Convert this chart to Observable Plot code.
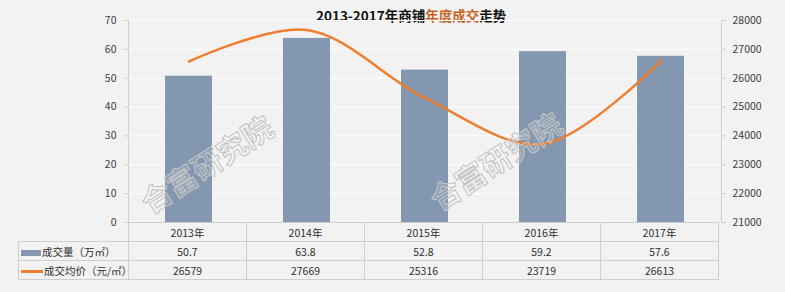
<!DOCTYPE html>
<html>
<head>
<meta charset="utf-8">
<script src="https://cdn.jsdelivr.net/npm/d3@7"></script>
<script src="https://cdn.jsdelivr.net/npm/@observablehq/plot@0.6"></script>
<style>
  html, body { margin: 0; padding: 0; }
  body { width: 785px; height: 292px; background: #f2f2f2; position: relative; overflow: hidden;
         font-family: "Microsoft YaHei", "Noto Sans CJK SC", "Noto Sans", sans-serif; color: #404040; }
  #title { position: absolute; top: 8px; left: 316px; font-size: 13.5px; font-weight: bold; color: #111; white-space: nowrap; line-height: 15px; }
  #title .hl { color: #c8621e; }
  #chart { position: absolute; left: 0; top: 0; }
  .wm { position: absolute; font-size: 30px; font-weight: bold; color: rgba(255,255,255,0.15);
        -webkit-text-stroke: 1px #c4c4c4; white-space: nowrap; transform: translate(-50%, -50%) rotate(-33deg);
        pointer-events: none; letter-spacing: 0px; }
  table { position: absolute; top: 222px; left: 18px; border-collapse: collapse; table-layout: fixed; font-size: 10.5px; color: #303030; }
  td { height: 19px; padding: 0; text-align: center; border: 1px solid #cfcfcf; box-sizing: border-box; white-space: nowrap; }
  td.blank { border: none; border-right: 1px solid #cfcfcf; }
  td.lab { text-align: left; padding-left: 2px; }
  .key { display: inline-block; vertical-align: middle; margin-right: 1px; }
</style>
</head>
<body>
<div id="title">2013-2017年商铺<span class="hl">年度成交</span>走势</div>
<div id="chart"></div>
<script>
// ---- data ----
const years = ["2013年", "2014年", "2015年", "2016年", "2017年"];
const volume = [50.7, 63.8, 52.8, 59.2, 57.6];          // 成交量（万㎡）
const price = [26579, 27669, 25316, 23719, 26613];      // 成交均价（元/㎡）
const leftTicks = [0, 10, 20, 30, 40, 50, 60, 70];
const rightTicks = [21000, 22000, 23000, 24000, 25000, 26000, 27000, 28000];
const seriesNames = ["成交量（万㎡）", "成交均价（元/㎡）"];
const watermark = "合富研究院";

const barColor = "#8497b0";
const lineColor = "#ef7f30";
const axisColor = "#cfcfcf";

const data = years.map((y, i) => ({year: y, volume: volume[i], price: price[i]}));
// right axis (price) mapped onto the left axis range
const priceToLeft = d3.scaleLinear([rightTicks[0], rightTicks[rightTicks.length - 1]],
                                   [leftTicks[0], leftTicks[leftTicks.length - 1]]);

const chart = Plot.plot({
  width: 785,
  height: 292,
  marginLeft: 128,
  marginRight: 64,
  marginTop: 20,
  marginBottom: 70,
  style: {background: "transparent", fontFamily: "'Microsoft YaHei', 'Noto Sans CJK SC', sans-serif", fontSize: "10.5px", color: "#404040", overflow: "visible"},
  x: {domain: years, paddingInner: 0.6, paddingOuter: 0.3, axis: null},
  y: {domain: [leftTicks[0], leftTicks[leftTicks.length - 1]], axis: null},
  marks: [
    Plot.gridY(leftTicks, {stroke: "#ffffff", strokeOpacity: 1, strokeWidth: 1}),
    Plot.frame({anchor: "left", stroke: axisColor}),
    Plot.frame({anchor: "right", stroke: axisColor}),
    Plot.axisY(leftTicks, {anchor: "left", label: null, tickSize: 4, tickPadding: 8, stroke: axisColor, fill: "#404040"}),
    Plot.axisY(rightTicks.map(priceToLeft), {anchor: "right", label: null, tickSize: 4, tickPadding: 7,
      stroke: axisColor, fill: "#404040", tickFormat: d => String(Math.round(priceToLeft.invert(d)))}),
    Plot.barY(data, {x: "year", y: "volume", fill: barColor}),
    Plot.line(data, {x: "year", y: d => priceToLeft(d.price), stroke: lineColor, strokeWidth: 2.5, curve: "catmull-rom"})
  ]
});
document.getElementById("chart").appendChild(chart);

// watermark overlays
[[206, 163], [495, 160]].forEach(([cx, cy]) => {
  const w = document.createElement("div");
  w.className = "wm";
  w.textContent = watermark;
  w.style.left = cx + "px";
  w.style.top = cy + "px";
  document.body.appendChild(w);
});

// data table below the plot, aligned with the x band scale
const xs = chart.scale("x");
const step = xs.step !== undefined ? xs.step : (593 / years.length);
const firstLeft = 128;
const table = document.createElement("table");
const colgroup = document.createElement("colgroup");
const c0 = document.createElement("col"); c0.style.width = (firstLeft - 18) + "px"; colgroup.appendChild(c0);
years.forEach(() => { const c = document.createElement("col"); c.style.width = step + "px"; colgroup.appendChild(c); });
table.appendChild(colgroup);
table.style.width = (firstLeft - 18 + step * years.length) + "px";

const r0 = document.createElement("tr");
const b = document.createElement("td"); b.className = "blank"; r0.appendChild(b);
years.forEach(y => { const td = document.createElement("td"); td.textContent = y; r0.appendChild(td); });
table.appendChild(r0);

[[volume, 0, "bar"], [price, 1, "line"]].forEach(([vals, k, kind]) => {
  const tr = document.createElement("tr");
  const lab = document.createElement("td"); lab.className = "lab";
  const key = document.createElement("span"); key.className = "key";
  if (kind === "bar") { key.style.width = "20px"; key.style.height = "6px"; key.style.background = barColor; }
  else { key.style.width = "22px"; key.style.height = "2.5px"; key.style.background = lineColor; }
  lab.appendChild(key);
  lab.appendChild(document.createTextNode(seriesNames[k]));
  tr.appendChild(lab);
  vals.forEach(v => { const td = document.createElement("td"); td.textContent = String(v); tr.appendChild(td); });
  table.appendChild(tr);
});
document.body.appendChild(table);
</script>
</body>
</html>
